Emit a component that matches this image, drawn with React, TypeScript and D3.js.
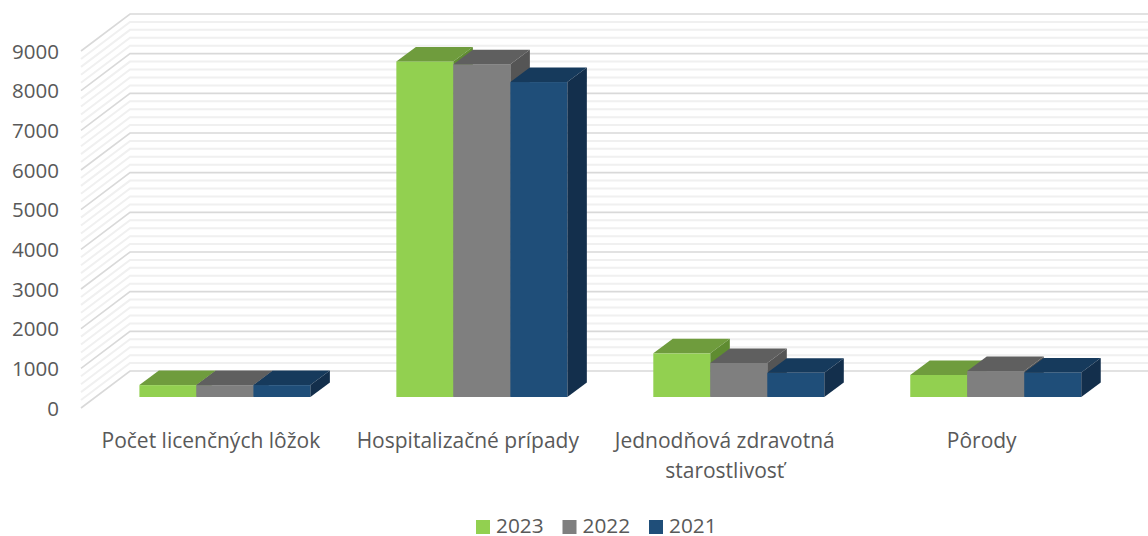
import React from 'react'
import * as d3 from 'd3'

const categories = ['Počet licenčných lôžok', 'Hospitalizačné prípady', 'Jednodňová zdravotná|starostlivosť', 'Pôrody']
const seriesNames = ['2023', '2022', '2021']
const values2023 = [300, 8460, 1100, 555]
const values2022 = [300, 8390, 860, 655]
const values2021 = [300, 7940, 610, 620]
const seriesValues = [values2023, values2022, values2021]

// front, top, side shade per series
const FRONT = ['#92d050', '#7f7f7f', '#1f4e79']
const TOP = ['#6f9c3d', '#5f5f5f', '#163a5c']
const SIDE = ['#5f8c31', '#555555', '#132f4c']

const WIDTH = 1148
const HEIGHT = 536
const FONT = '"Open Sans", sans-serif'
const TEXT = '#595959'

// 3D floor offset of the chart walls
const WALL_DX = 49
const WALL_DY = -37
// bars stand part way into the floor
const BAR_DX = 19.5
const BAR_DY = -14.5
const BAR_BASE_SHIFT = -11

const y = d3.scaleLinear().domain([0, 9000]).range([408, 51])
const x0 = d3.scaleBand<string>().domain(categories).range([96.4, 1124.2])
const x1 = d3.scaleBand<string>().domain(seriesNames).range([43, 214])

const majorTicks = y.ticks(9)
const minorTicks = y.ticks(45).filter(t => t % 1000 !== 0)

function poly(pts: [number, number][]) {
  return pts.map(p => p.join(',')).join(' ')
}

function Bar3D({ x, w, value, i }: { x: number; w: number; value: number; i: number }) {
  const bottom = y(0) + BAR_BASE_SHIFT
  const top = y(value) + BAR_BASE_SHIFT
  return (
    <g>
      <rect x={x} y={top} width={w} height={bottom - top} fill={FRONT[i]} />
      <polygon
        fill={TOP[i]}
        points={poly([[x, top], [x + BAR_DX, top + BAR_DY], [x + w + BAR_DX, top + BAR_DY], [x + w, top]])}
      />
      <polygon
        fill={SIDE[i]}
        points={poly([[x + w, top], [x + w + BAR_DX, top + BAR_DY], [x + w + BAR_DX, bottom + BAR_DY], [x + w, bottom]])}
      />
    </g>
  )
}

function GridLine({ value, major }: { value: number; major: boolean }) {
  const yy = y(value)
  const pts = poly([[81, yy], [81 + WALL_DX, yy + WALL_DY], [WIDTH, yy + WALL_DY]])
  return <polyline points={pts} fill="none" stroke={major ? '#d9d9d9' : '#f0f0f0'} strokeWidth={major ? 1.6 : 2} />
}

export default function App() {
  return (
    <svg
      width={WIDTH}
      height={HEIGHT}
      style={{ position: 'absolute', left: 0, top: 0, background: '#fff', fontFamily: FONT }}
    >
      {minorTicks.map(t => <GridLine key={t} value={t} major={false} />)}
      {majorTicks.map(t => <GridLine key={t} value={t} major />)}

      {majorTicks.map(t => (
        <text key={t} x={59} y={y(t) + 7.5} textAnchor="end" fontSize={20.5} fill={TEXT}>{t}</text>
      ))}

      {categories.map((c, ci) =>
        seriesNames.map((s, si) => (
          <Bar3D
            key={c + s}
            x={x0(c)! + x1(s)!}
            w={x1.bandwidth()}
            value={seriesValues[si][ci]}
            i={si}
          />
        ))
      )}

      {categories.map(c => (
        <text key={c} textAnchor="middle" fontSize={21} fill={TEXT}>
          {c.split('|').map((line, i) => (
            <tspan key={line} x={x0(c)! + x0.bandwidth() / 2 - 14} y={448 + i * 30}>{line}</tspan>
          ))}
        </text>
      ))}

      {seriesNames.map((s, i) => {
        const lx = 476 + i * 86.5
        return (
          <g key={s}>
            <rect x={lx} y={520} width={14} height={14} fill={FRONT[i]} />
            <text x={lx + 20} y={533} fontSize={20.8} fill={TEXT}>{s}</text>
          </g>
        )
      })}
    </svg>
  )
}
